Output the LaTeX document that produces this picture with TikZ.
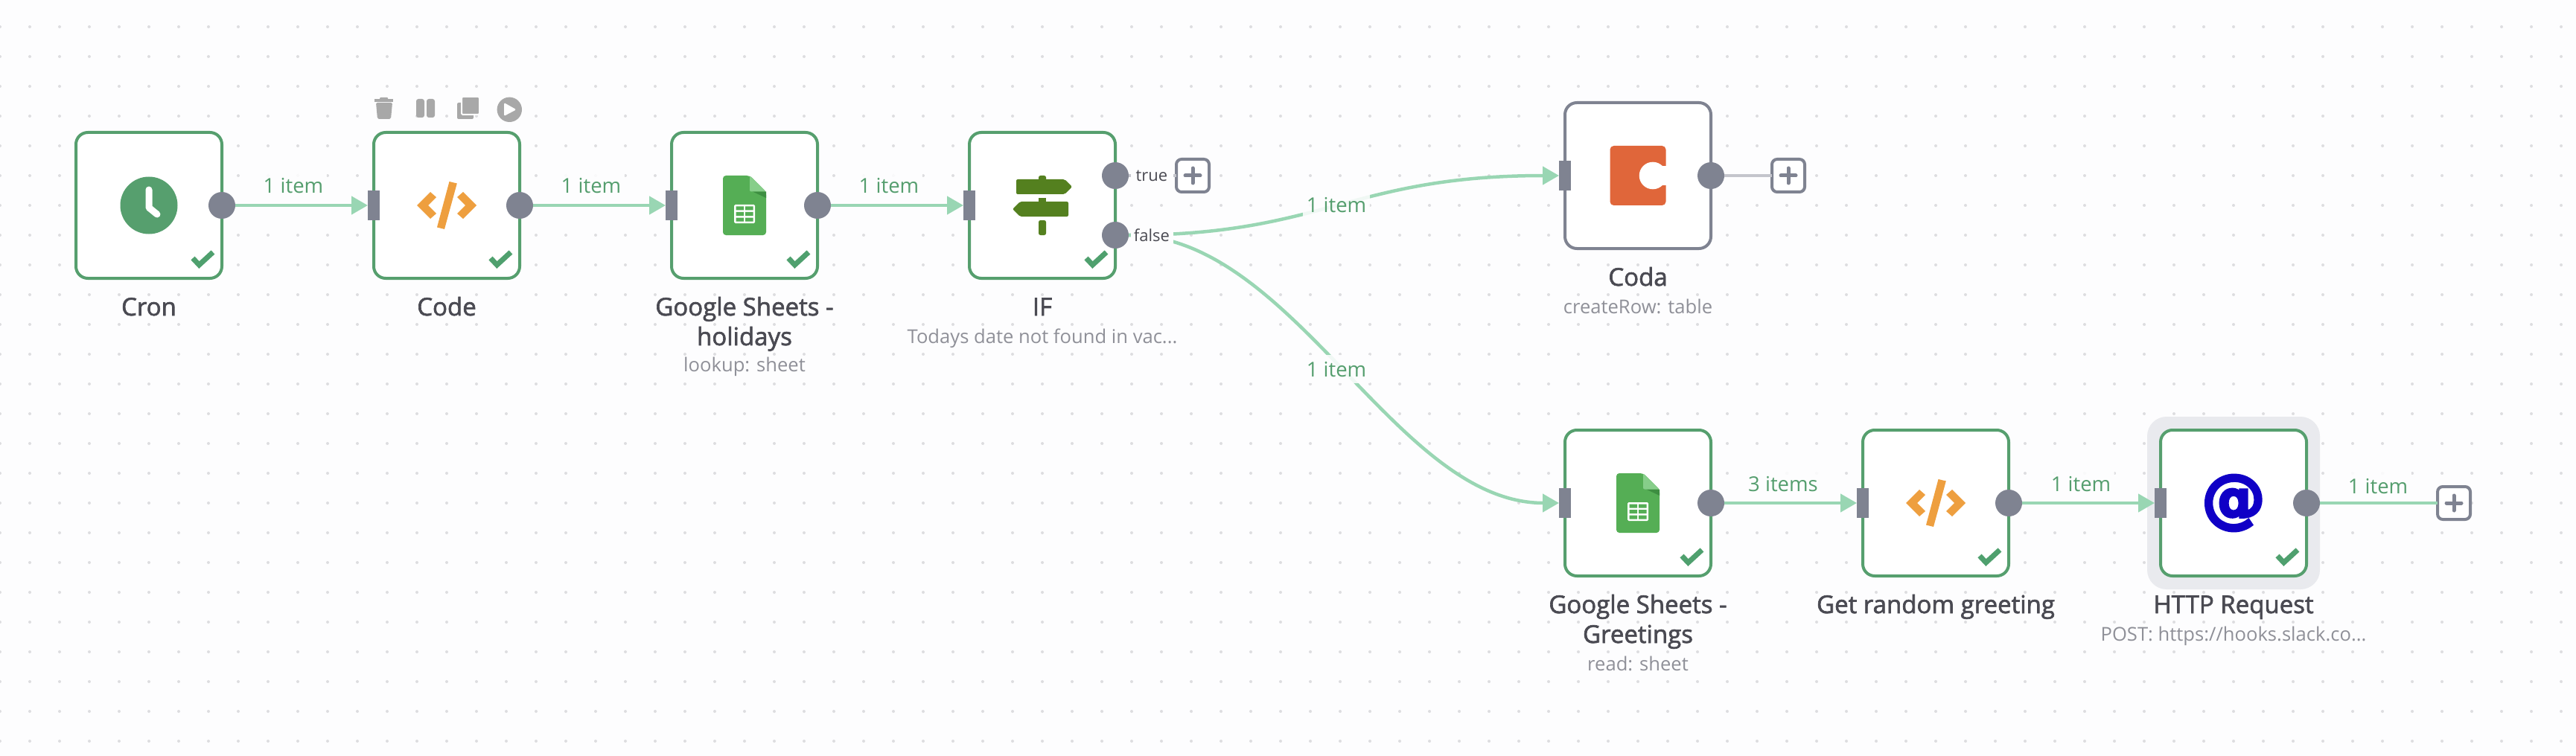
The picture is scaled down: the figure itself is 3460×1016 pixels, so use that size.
\documentclass[tikz,border=0pt]{standalone}
\usepackage{fontspec}
\setmainfont{Open Sans}
\newfontfamily\nmfont[FakeBold=2]{Open Sans}
\newfontfamily\atfont[FakeBold=4]{DejaVu Sans Bold}
\usetikzlibrary{arrows.meta,calc}
\definecolor{pagebg}{HTML}{FDFDFE}
\definecolor{griddot}{HTML}{DDDDE0}
\definecolor{okgreen}{HTML}{569F6E}
\definecolor{chkgreen}{HTML}{4FA06E}
\definecolor{wire}{HTML}{99D6B3}
\definecolor{stubgray}{HTML}{C4C5CC}
\definecolor{portgray}{HTML}{7F8391}
\definecolor{namecol}{HTML}{4A4A52}
\definecolor{subcol}{HTML}{8F9098}
\definecolor{elabelcol}{HTML}{559E6E}
\definecolor{tool}{HTML}{A8A8A8}
\definecolor{halogray}{HTML}{E9EAEE}
\definecolor{codeor}{HTML}{EE9F3F}
\definecolor{sheetg}{HTML}{55AE55}
\definecolor{sheetl}{HTML}{87CE8A}
\definecolor{sheetd}{HTML}{3D8E41}
\definecolor{ifg}{HTML}{54801F}
\definecolor{codar}{HTML}{E0663A}
\definecolor{atblue}{HTML}{1000C6}
\tikzset{
  x=1pt,y=-1pt,
  box/.style={draw=okgreen,fill=white,line width=4pt,rounded corners=16pt,minimum width=196pt,minimum height=196pt,inner sep=0pt},
  graybox/.style={box,draw=portgray},
  outport/.style={circle,fill=portgray,minimum size=36pt,inner sep=0pt,outer sep=0pt},
  inport/.style={rectangle,fill=portgray,minimum width=16pt,minimum height=40pt,inner sep=0pt,outer sep=0pt},
  plusbox/.style={draw=portgray,fill=white,line width=4pt,rounded corners=7pt,minimum size=44pt,inner sep=0pt,outer sep=0pt},
  plusmark/.style={draw=portgray,line width=5pt,line cap=round},
  conn/.style={draw=wire,line width=4.5pt,-{Triangle[length=22pt,width=24pt]}},
  plain/.style={draw=wire,line width=4.5pt},
  stub/.style={draw=stubgray,line width=4.5pt},
  nm/.style={font=\nmfont\fontsize{33}{40}\selectfont,text=namecol,anchor=base,inner sep=0pt,align=center},
  sub/.style={font=\fontsize{25.6}{30}\selectfont,text=subcol,anchor=base,inner sep=0pt},
  elabel/.style={font=\fontsize{27.5}{32}\selectfont,text=elabelcol,anchor=base,fill=pagebg,fill opacity=.88,text opacity=1,inner xsep=5pt,inner ysep=0pt,text height=29pt,text depth=9pt},
  portlabel/.style={font=\fontsize{22}{26}\selectfont,text=namecol,fill=pagebg,inner xsep=3pt,inner ysep=2pt,minimum width=57pt},
  checkmark/.pic={\draw[chkgreen,line width=7pt,miter limit=10] (59,71) -- (67.5,80) -- (86,63);},
  clockicon/.pic={\fill[okgreen] (0,0) circle (38.5pt);
    \draw[white,line width=9pt,line cap=round,line join=round] (0,-21) -- (0,3) -- (11,12);},
  codeicon/.pic={\fill[codeor] (-40,0) -- (-22,-18) -- (-14,-11) -- (-25,0) -- (-14,11) -- (-22,18) -- cycle;
    \fill[codeor] (40,0) -- (22,-18) -- (14,-11) -- (25,0) -- (14,11) -- (22,18) -- cycle;
    \fill[codeor] (3.5,-32) -- (13.8,-29.5) -- (-3,32) -- (-13,29.5) -- cycle;},
  sheeticon/.pic={
    \fill[sheetg,rounded corners=4pt] (-29,-40) -- (7,-40) -- (29,-18) -- (29,40) -- (-29,40) -- cycle;
    \fill[sheetd] (11,-18.5) -- (29,-18.5) -- (29,-10) -- cycle;
    \fill[sheetl,rounded corners=2pt] (7,-40) -- (29,-18.5) -- (7,-18.5) -- cycle;
    \fill[white,rounded corners=1.5pt] (-14,-1) rectangle (14,24);
    \fill[sheetg] (-11.5,1.5) rectangle (-1,6.5) (1,1.5) rectangle (11.5,6.5)
      (-11.5,9) rectangle (-1,14) (1,9) rectangle (11.5,14)
      (-11.5,16.5) rectangle (-1,21.5) (1,16.5) rectangle (11.5,21.5);},
  ificon/.pic={
    \fill[ifg,rounded corners=2.5pt] (-5,-40) rectangle (5,-30);
    \fill[ifg,rounded corners=2pt] (-35,-35) -- (30,-35) -- (40,-25) -- (30,-15) -- (-35,-15) -- cycle;
    \fill[ifg] (-5,-10) rectangle (5,-5);
    \fill[ifg,rounded corners=2pt] (35,-5) -- (-30,-5) -- (-40,5) -- (-30,15) -- (35,15) -- cycle;
    \fill[ifg,rounded corners=2.5pt] (-5,20) rectangle (5,40);},
  codaicon/.pic={
    \fill[codar,rounded corners=5pt] (-37.5,-40) rectangle (37.5,40);
    \fill[white] (20,0) circle (18.3pt);
    \fill[white] (27,-13) rectangle (38,13);}
}
\newcommand\plusin[1]{\draw[plusmark] ($(#1)+(-10,0)$) -- ($(#1)+(10,0)$); \draw[plusmark] ($(#1)+(0,-10)$) -- ($(#1)+(0,10)$);}
\begin{document}
\begin{tikzpicture}
\useasboundingbox (0,0) rectangle (3460,1016);
\fill[pagebg] (0,0) rectangle (3460,1016);
\foreach \gx in {0,40,...,3440} \foreach \gy in {36,76,...,996} \fill[griddot] (\gx,\gy) circle (2pt);

% halo
\fill[halogray,rounded corners=26pt] (2884,560) rectangle (3116,792);

% boxes
\node[box] (cron) at (200,276) {};
\node[box] (code) at (600,276) {};
\node[box] (hol) at (1000,276) {};
\node[box] (ifn) at (1400,276) {};
\node[graybox] (coda) at (2200,236) {};
\node[box] (gre) at (2200,676) {};
\node[box] (rnd) at (2600,676) {};
\node[box] (http) at (3000,676) {};

% icons
\pic at (cron) {clockicon};
\pic at (code) {codeicon};
\pic at (hol) {sheeticon};
\pic at (ifn) {ificon};
\pic at (coda) {codaicon};
\pic at (gre) {sheeticon};
\pic at (rnd) {codeicon};
\node[font=\atfont\fontsize{86}{86}\selectfont,text=atblue,inner sep=0pt] (atsign) at (3000,676) {@};

% checks
\foreach \n in {cron,code,hol,ifn,gre,rnd,http} \pic at (\n) {checkmark};

% ports
\node[outport] (cronO) at (298,276) {};
\node[inport] (codeI) at (502,276) {};
\node[outport] (codeO) at (698,276) {};
\node[inport] (holI) at (902,276) {};
\node[outport] (holO) at (1098,276) {};
\node[inport] (ifnI) at (1302,276) {};
\node[outport] (ifT) at (1498,236) {};
\node[outport] (ifF) at (1498,316) {};
\node[inport] (codaI) at (2102,236) {};
\node[outport] (codaO) at (2298,236) {};
\node[inport] (greI) at (2102,676) {};
\node[outport] (greO) at (2298,676) {};
\node[inport] (rndI) at (2502,676) {};
\node[outport] (rndO) at (2698,676) {};
\node[inport] (httpI) at (2902,676) {};
\node[outport] (httpO) at (3098,676) {};

% plus boxes
\node[plusbox] (plusT) at (1602,236) {};
\node[plusbox] (plusC) at (2402,236) {};
\node[plusbox] (plusH) at (3296,676) {};

% connectors
\draw[conn] (cronO) -- (codeI);
\draw[conn] (codeO) -- (holI);
\draw[conn] (holO) -- (ifnI);
\draw[conn] (ifF.east) .. controls +(262,0) and +(-280,0) .. (codaI.west);
\draw[conn] (ifF.east) .. controls +(222,0) and +(-220,0) .. (greI.west);
\draw[conn] (greO) -- (rndI);
\draw[conn] (rndO) -- (httpI);
\draw[plain] (httpO) -- (plusH);
\draw[stub] (codaO) -- (plusC);
\draw[stub] (ifT) -- (plusT);
\plusin{plusT}
\plusin{plusC}
\plusin{plusH}

% edge labels
\node[elabel] (l1) at (394,260) {1 item};
\node[elabel] (l2) at (794,260) {1 item};
\node[elabel] (l3) at (1194,260) {1 item};
\node[elabel] (l4) at (1795,286) {1 item};
\node[elabel] (l5) at (1795,506) {1 item};
\node[elabel] (l6) at (2395,660) {3 items};
\node[elabel] (l7) at (2795,660) {1 item};
\node[elabel] (l8) at (3194,663) {1 item};
\node[portlabel] (lt) at (1547,236) {true};
\node[portlabel] (lf) at (1547,316) {false};

% names
\node[nm] (n1) at (200,424) {Cron};
\node[nm] (n2) at (600,424) {Code};
\node[nm] (n3) at (1000,464) {Google Sheets -\\holidays};
\node[sub] (s3) at (1000,499) {lookup: sheet};
\node[nm] (n4) at (1400,424) {IF};
\node[sub] (s4) at (1400,461) {Todays date not found in vac...};
\node[nm] (n5) at (2200,384) {Coda};
\node[sub] (s5) at (2200,421) {createRow: table};
\node[nm] (n6) at (2200,864) {Google Sheets -\\Greetings};
\node[sub] (s6) at (2200,901) {read: sheet};
\node[nm] (n7) at (2600,824) {Get random greeting};
\node[nm] (n8) at (3000,824) {HTTP Request};
\node[sub] (s8) at (3000,861) {POST: https://hooks.slack.co...};

% toolbar of the Code node
\begin{scope}[tool]
\fill (503,133.5) rectangle (528,137);
\fill[rounded corners=1pt] (510,131) rectangle (521,134);
\fill[rounded corners=2pt] (505,138) -- (527,138) -- (525,160) -- (507,160) -- cycle;
\fill[rounded corners=3pt] (559,133) rectangle (570,158);
\fill[rounded corners=3pt] (573,133) rectangle (584,158);
\fill[rounded corners=2pt] (614,138) rectangle (636,160);
\fill[rounded corners=2pt,draw=pagebg,line width=2pt] (620,130) rectangle (644,154);
\fill (684.3,147.3) circle (16.7pt);
\fill[white,rounded corners=1.5pt] (677,138) -- (693.5,147.3) -- (677,156) -- cycle;
\end{scope}
\end{tikzpicture}
\end{document}
